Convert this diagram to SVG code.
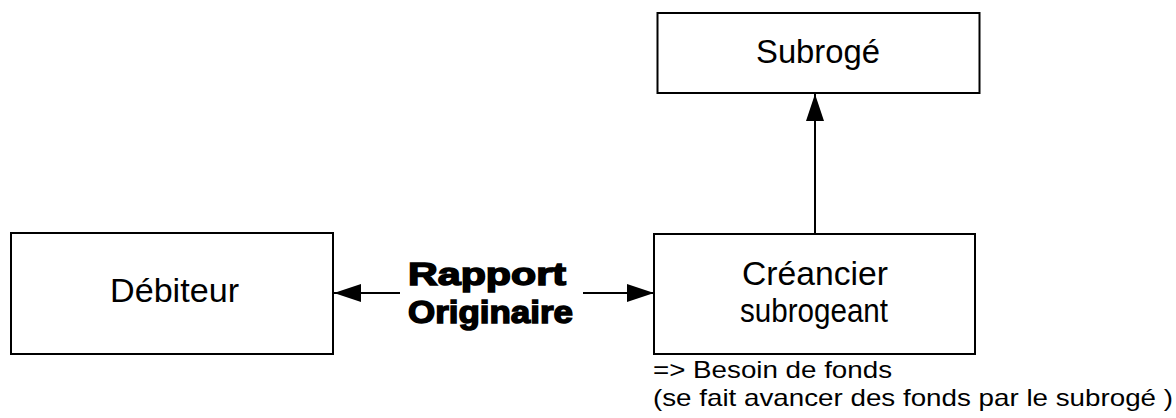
<svg xmlns="http://www.w3.org/2000/svg" width="1176" height="418" viewBox="0 0 1176 418">
  <style>
    .box { fill: #ffffff; stroke: #000000; stroke-width: 2; }
    .label { font-family: "Liberation Sans", Arial, sans-serif; fill: #000000; }
    .node-text { font-size: 34px; text-anchor: start; }
    .rel-text { font-size: 32px; font-weight: bold; stroke: #000000; stroke-width: 1.5; }
    .note-text { font-size: 24px; }
    .link { stroke: #000000; stroke-width: 2; fill: none; marker-end: url(#head); }
  </style>
  <defs>
    <marker id="head" markerUnits="userSpaceOnUse" markerWidth="27" markerHeight="18" refX="27" refY="9" orient="auto">
      <path d="M0,0 L27,9 L0,18 z" fill="#000000"/>
    </marker>
  </defs>
  <rect width="1176" height="418" fill="#ffffff"/>

  <!-- connectors -->
  <g id="connectors">
    <line class="link" x1="815" y1="234" x2="815" y2="94"/>
    <line class="link" x1="400" y1="293" x2="334" y2="293"/>
    <line class="link" x1="583" y1="293" x2="654" y2="293"/>
  </g>

  <!-- relation label -->
  <g id="rapport-originaire">
    <text class="label rel-text" x="408" y="285" textLength="158" lengthAdjust="spacingAndGlyphs">Rapport</text>
    <text class="label rel-text" x="408" y="323" textLength="165" lengthAdjust="spacingAndGlyphs">Originaire</text>
  </g>

  <g id="subroge">
    <rect class="box" x="657.5" y="13" width="322" height="80"/>
    <text class="label node-text" x="756" y="63" textLength="124" lengthAdjust="spacingAndGlyphs">Subrogé</text>
  </g>

  <g id="debiteur">
    <rect class="box" x="11" y="233" width="322" height="121"/>
    <text class="label node-text" x="110" y="302" font-size="32" textLength="129" lengthAdjust="spacingAndGlyphs">Débiteur</text>
  </g>

  <g id="creancier">
    <rect class="box" x="654" y="234" width="321" height="120"/>
    <text class="label node-text" x="742" y="285" textLength="146" lengthAdjust="spacingAndGlyphs">Créancier</text>
    <text class="label node-text" x="740" y="322" textLength="148" lengthAdjust="spacingAndGlyphs">subrogeant</text>
  </g>

  <g id="note">
    <text class="label note-text" x="653" y="378" textLength="239" lengthAdjust="spacingAndGlyphs">=&gt; Besoin de fonds</text>
    <text class="label note-text" x="653" y="406" textLength="520" lengthAdjust="spacingAndGlyphs">(se fait avancer des fonds par le subrogé )</text>
  </g>
</svg>
